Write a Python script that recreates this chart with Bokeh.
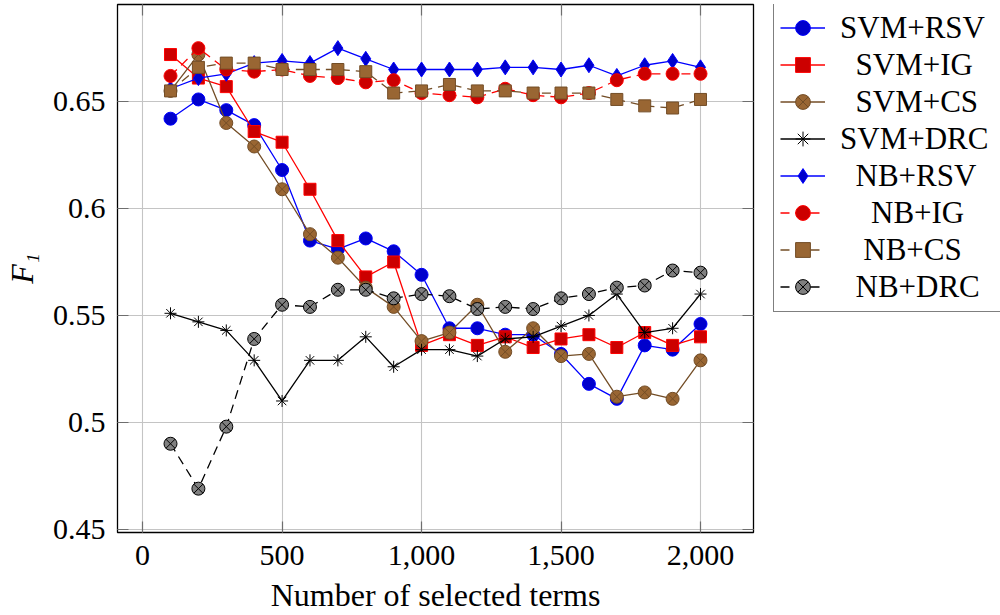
import math
from bokeh.plotting import figure
from bokeh.layouts import row
from bokeh.models import (LinearAxis, FixedTicker, NumeralTickFormatter, Legend,
                          LegendItem, Range1d)
from bokeh.embed import file_html
from bokeh.resources import INLINE

# ---------------- data ----------------
x_terms = [100, 200, 300, 400, 500, 600, 700, 800, 900, 1000,
           1100, 1200, 1300, 1400, 1500, 1600, 1700, 1800, 1900, 2000]

svm_rsv = [0.642, 0.651, 0.646, 0.639, 0.618, 0.585, 0.581, 0.586, 0.580, 0.569,
           0.544, 0.544, 0.541, 0.541, 0.532, 0.518, 0.511, 0.536, 0.534, 0.546]
svm_ig = [0.672, 0.661, 0.657, 0.636, 0.631, 0.609, 0.585, 0.568, 0.575, 0.536,
          0.541, 0.536, 0.540, 0.535, 0.539, 0.541, 0.535, 0.542, 0.536, 0.540]
svm_cs = [0.655, 0.672, 0.640, 0.629, 0.609, 0.588, 0.577, 0.563, 0.554, 0.538,
          0.542, 0.555, 0.533, 0.544, 0.531, 0.532, 0.512, 0.514, 0.511, 0.529]
svm_drc = [0.551, 0.547, 0.543, 0.529, 0.510, 0.529, 0.529, 0.540, 0.526, 0.534,
           0.534, 0.531, 0.539, 0.540, 0.545, 0.550, 0.560, 0.542, 0.544, 0.560]
nb_rsv = [0.656, 0.661, 0.663, 0.668, 0.669, 0.668, 0.675, 0.670, 0.665, 0.665,
          0.665, 0.665, 0.666, 0.666, 0.665, 0.667, 0.662, 0.667, 0.669, 0.666]
nb_ig = [0.662, 0.675, 0.665, 0.664, 0.665, 0.662, 0.661, 0.659, 0.660, 0.654,
         0.653, 0.652, 0.656, 0.653, 0.652, 0.654, 0.660, 0.663, 0.663, 0.663]
nb_cs = [0.655, 0.666, 0.668, 0.668, 0.665, 0.665, 0.665, 0.664, 0.654, 0.655,
         0.658, 0.655, 0.655, 0.654, 0.654, 0.654, 0.651, 0.648, 0.647, 0.651]
nb_drc = [0.490, 0.469, 0.498, 0.539, 0.555, 0.554, 0.562, 0.562, 0.558, 0.560,
          0.559, 0.553, 0.554, 0.553, 0.558, 0.560, 0.563, 0.564, 0.571, 0.570]

series_names = ["SVM+RSV", "SVM+IG", "SVM+CS", "SVM+DRC",
                "NB+RSV", "NB+IG", "NB+CS", "NB+DRC"]
series_values = [svm_rsv, svm_ig, svm_cs, svm_drc, nb_rsv, nb_ig, nb_cs, nb_drc]

x_ticks = [0, 500, 1000, 1500, 2000]
y_ticks = [0.45, 0.5, 0.55, 0.6, 0.65]
y_tick_labels = ["0.45", "0.5", "0.55", "0.6", "0.65"]

x_label = "Number of selected terms"
y_label = "F\u2081"

# ---------------- styles ----------------
BLUE, BLUE_F = "#0000ff", "#0000cc"
RED, RED_F = "#ff0000", "#cc0000"
BROWN, BROWN_F = "#734d26", "#996633"
BLACK, GRAY = "#000000", "#808080"
DASH = "9 6"
FONT = "Liberation Serif"
NBSP = "\u00a0"

styles = [
    dict(color=BLUE, dash="solid", marker="circle", size=13, fill=BLUE_F, edge=BLUE),
    dict(color=RED, dash="solid", marker="square", size=12, fill=RED_F, edge=RED),
    dict(color=BROWN, dash="solid", marker="circle_x", size=13, fill=BROWN_F, edge=BROWN),
    dict(color=BLACK, dash="solid", marker="asterisk", size=12, fill=BLACK, edge=BLACK),
    dict(color=BLUE, dash="solid", marker="diamond", size=15, fill=BLUE_F, edge=BLUE),
    dict(color=RED, dash=DASH, marker="circle", size=13, fill=RED_F, edge=RED),
    dict(color=BROWN, dash=DASH, marker="square", size=12, fill=BROWN_F, edge=BROWN),
    dict(color=BLACK, dash=DASH, marker="circle_x", size=13, fill=GRAY, edge=BLACK),
]
# leading non-breaking spaces so the legend labels look centred
label_pad = [0, 2, 2, 0, 2, 4, 3, 2]

# ---------------- main plot ----------------
p = figure(width=763, height=615, output_backend="svg", toolbar_location=None,
           x_range=Range1d(-90, 2190), y_range=Range1d(0.4485, 0.6954),
           min_border_left=117, min_border_right=10, min_border_top=4,
           min_border_bottom=80)

p.background_fill_color = "white"
p.border_fill_color = "white"
p.outline_line_color = "black"
p.outline_line_width = 1.3

TICK_COL = "#6e6e6e"

def style_axis(ax):
    ax.axis_line_color = None
    ax.major_tick_in = 11
    ax.major_tick_out = 0
    ax.minor_tick_in = 0
    ax.minor_tick_out = 0
    ax.major_tick_line_color = TICK_COL
    ax.major_tick_line_width = 1.2
    ax.major_label_text_font = FONT
    ax.major_label_text_color = "black"
    ax.major_label_text_font_size = "30px"

xb = p.xaxis[0]
xb.ticker = FixedTicker(ticks=x_ticks)
xb.formatter = NumeralTickFormatter(format="0,0")
style_axis(xb)
xb.major_label_standoff = 13
xb.axis_label = x_label
xb.axis_label_text_font = FONT
xb.axis_label_text_font_style = "normal"
xb.axis_label_text_font_size = "32px"
xb.axis_label_text_color = "black"
xb.axis_label_standoff = 9

yl = p.yaxis[0]
yl.ticker = FixedTicker(ticks=y_ticks)
yl.major_label_overrides = {t: l for t, l in zip(y_ticks, y_tick_labels)}
style_axis(yl)
yl.major_label_standoff = 12
yl.axis_label = y_label
yl.axis_label_text_font = FONT
yl.axis_label_text_font_style = "italic"
yl.axis_label_text_font_size = "32px"
yl.axis_label_text_color = "black"
yl.axis_label_standoff = 10

# mirrored inner ticks on top and right (no labels)
top_ax = LinearAxis(ticker=FixedTicker(ticks=x_ticks))
style_axis(top_ax)
top_ax.major_label_overrides = {t: "" for t in x_ticks}
top_ax.major_label_text_font_size = "1px"
top_ax.major_label_standoff = 0
p.add_layout(top_ax, "above")
right_ax = LinearAxis(ticker=FixedTicker(ticks=y_ticks))
style_axis(right_ax)
right_ax.major_label_overrides = {t: "" for t in y_ticks}
right_ax.major_label_text_font_size = "1px"
right_ax.major_label_standoff = 0
p.add_layout(right_ax, "right")

p.xgrid.grid_line_color = "#c4c4c4"
p.ygrid.grid_line_color = "#c4c4c4"
p.xgrid.grid_line_width = 1.1
p.ygrid.grid_line_width = 1.1

# ---------------- legend panel ----------------
lp = figure(width=237, height=615, output_backend="svg", toolbar_location=None,
            x_axis_type=None, y_axis_type=None,
            x_range=Range1d(5000, 6000), y_range=Range1d(5, 6),
            min_border_left=0, min_border_right=0, min_border_top=0,
            min_border_bottom=0)
lp.outline_line_color = None
lp.background_fill_color = "white"
lp.border_fill_color = "white"

items = []
for name, vals, st, pad in zip(series_names, series_values, styles, label_pad):
    lr = p.line(x_terms, vals, line_color=st["color"], line_width=1.3,
                line_dash=st["dash"])
    sr = p.scatter(x_terms, vals, marker=st["marker"], size=st["size"],
                   fill_color=st["fill"], line_color=st["edge"], line_width=1)
    # same series in the legend panel (outside its visible range) for the key
    klr = lp.line(x_terms, vals, line_color=st["color"], line_width=1.3,
                  line_dash=st["dash"])
    ksr = lp.scatter(x_terms, vals, marker=st["marker"], size=st["size"],
                     fill_color=st["fill"], line_color=st["edge"], line_width=1)
    items.append(LegendItem(label=NBSP * pad + name, renderers=[klr, ksr]))

legend = Legend(items=items, location=(10, 220))
legend.margin = 0
legend.padding = 6
legend.spacing = 0
legend.glyph_width = 45
legend.glyph_height = 37
legend.label_height = 37
legend.label_width = 200
legend.label_standoff = 15
legend.label_text_font = FONT
legend.label_text_font_size = "31px"
legend.label_text_color = "black"
legend.border_line_color = "black"
legend.border_line_width = 1.2
legend.background_fill_color = "white"
legend.background_fill_alpha = 1.0
lp.add_layout(legend, "center")

layout = row(p, lp, spacing=0)
open("out.html", "w").write(file_html(layout, INLINE))
